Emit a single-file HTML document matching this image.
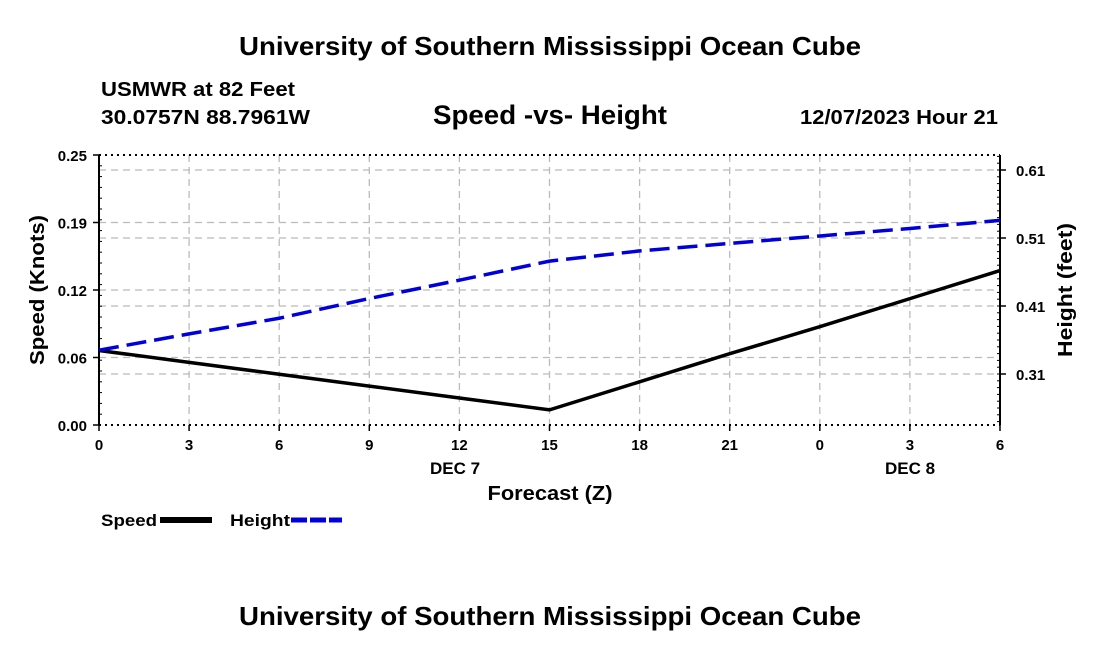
<!DOCTYPE html>
<html><head><meta charset="utf-8"><style>
body{margin:0;background:#fff;width:1100px;height:650px;overflow:hidden}
svg text{font-family:"Liberation Sans",sans-serif;font-weight:bold;fill:#000}
</style></head><body>
<svg id="c" width="1100" height="650">
<text x="550" y="55" font-size="26" text-anchor="middle" textLength="622" lengthAdjust="spacingAndGlyphs">University of Southern Mississippi Ocean Cube</text>
<text x="101" y="96" font-size="20" textLength="194" lengthAdjust="spacingAndGlyphs">USMWR at 82 Feet</text>
<text x="101" y="124" font-size="20" textLength="209" lengthAdjust="spacingAndGlyphs">30.0757N  88.7961W</text>
<text x="550" y="124" font-size="27" text-anchor="middle" textLength="234" lengthAdjust="spacingAndGlyphs">Speed -vs- Height</text>
<text x="998" y="124" font-size="20" text-anchor="end" textLength="198" lengthAdjust="spacingAndGlyphs">12/07/2023 Hour 21</text>
<g id="grid"></g><g id="axes"></g><g id="series"></g>
<text x="550" y="500" font-size="20" text-anchor="middle" textLength="125" lengthAdjust="spacingAndGlyphs">Forecast (Z)</text>
<text transform="translate(44,290) rotate(-90)" font-size="20" text-anchor="middle" textLength="150" lengthAdjust="spacingAndGlyphs">Speed (Knots)</text>
<text transform="translate(1072,290) rotate(-90)" font-size="20" text-anchor="middle" textLength="134" lengthAdjust="spacingAndGlyphs">Height (feet)</text>
<text x="455" y="474" font-size="17" text-anchor="middle">DEC 7</text>
<text x="910" y="474" font-size="17" text-anchor="middle">DEC 8</text>
<g><text x="101" y="526" font-size="17" textLength="56" lengthAdjust="spacingAndGlyphs">Speed</text><line x1="160" y1="520" x2="212" y2="520" stroke="#000" stroke-width="6"/></g>
<g><text x="230" y="526" font-size="17" textLength="60" lengthAdjust="spacingAndGlyphs">Height</text><line x1="291" y1="520" x2="342" y2="520" stroke="#0000dd" stroke-width="5" stroke-dasharray="16,3"/></g>
<text x="550" y="625" font-size="26" text-anchor="middle" textLength="622" lengthAdjust="spacingAndGlyphs">University of Southern Mississippi Ocean Cube</text>
</svg>
<script>
const hours=[0,3,6,9,12,15,18,21,24,27,30,33];
const xTickLabels=["0","3","6","9","12","15","18","21","0","3","6"];
const xTickHours=[0,3,6,9,12,15,18,21,24,27,30];
const speedValues=[0.069,0.058,0.047,0.036,0.025,0.014,0.040,0.066,0.091,0.117,0.143];
const heightValues=[0.345,0.369,0.392,0.421,0.448,0.476,0.491,0.502,0.513,0.524,0.536];
const yTicks=[0,0.0625,0.125,0.1875,0.25];
const yTickLabels=["0.00","0.06","0.12","0.19","0.25"];
const y2Ticks=[0.31,0.41,0.51,0.61];
const y2TickLabels=["0.31","0.41","0.51","0.61"];
const L=99,R=1000,T=155,B=425;
const X=h=>L+(h/30)*(R-L);
const Y=v=>B-(v/0.25)*(B-T);
const Y2=v=>374-(v-0.31)*680;
const NS="http://www.w3.org/2000/svg";
function mk(p,tag,a){const e=document.createElementNS(NS,tag);for(const k in a)e.setAttribute(k,a[k]);p.appendChild(e);return e;}
const g=document.getElementById('grid'),ax=document.getElementById('axes'),s=document.getElementById('series');
xTickHours.forEach((h,i)=>{
 const l=mk(g,'line',{x1:X(h),x2:X(h),y1:T,y2:B,stroke:'#bbb','stroke-width':1.3,'stroke-dasharray':'7,5'});
 
 
 mk(ax,'line',{x1:X(h),x2:X(h),y1:B,y2:B+6,stroke:'#000','stroke-width':1.5});
 const t=mk(ax,'text',{x:X(h),y:B+25,'font-size':15,'text-anchor':'middle'});t.textContent=xTickLabels[i];
 
 
});
yTicks.forEach((v,i)=>{
 if(i>0&&i<yTicks.length-1){const l=mk(g,'line',{x1:L,x2:R,y1:Y(v),y2:Y(v),stroke:'#bbb','stroke-width':1.3,'stroke-dasharray':'7,5'});
 
 }
 mk(ax,'line',{x1:L-6,x2:L,y1:Y(v),y2:Y(v),stroke:'#000','stroke-width':1.5});
 const t=mk(ax,'text',{x:L-12,y:Y(v)+6,'font-size':15,'text-anchor':'end'});t.textContent=yTickLabels[i];
 
 
});
for(let k=1;k<25;k++){const v=k*0.25/25;mk(ax,'line',{x1:L,x2:L+3,y1:Y(v),y2:Y(v),stroke:'#000'});}
y2Ticks.forEach((v,i)=>{
 const l=mk(g,'line',{x1:L,x2:R,y1:Y2(v),y2:Y2(v),stroke:'#bbb','stroke-width':1.3,'stroke-dasharray':'7,5'});
 
 
 mk(ax,'line',{x1:R,x2:R+6,y1:Y2(v),y2:Y2(v),stroke:'#000','stroke-width':1.5});
 const t=mk(ax,'text',{x:R+16,y:Y2(v)+6,'font-size':15});t.textContent=y2TickLabels[i];
 
 
});
for(let k=0;k<=40;k++){const v=0.24+k*0.01;const y=Y2(v);if(y>T&&y<B)mk(ax,'line',{x1:R-3,x2:R,y1:y,y2:y,stroke:'#000'});}
mk(ax,'line',{x1:L,x2:L,y1:T,y2:B,stroke:'#000','stroke-width':2});
mk(ax,'line',{x1:R,x2:R,y1:T,y2:B,stroke:'#000','stroke-width':2});
mk(ax,'line',{x1:L,x2:R,y1:T,y2:T,stroke:'#000','stroke-width':2,'stroke-dasharray':'2,4'});
mk(ax,'line',{x1:L,x2:R,y1:B,y2:B,stroke:'#000','stroke-width':2,'stroke-dasharray':'2,4'});
const sp=mk(s,'polyline',{points:speedValues.map((v,i)=>X(hours[i])+','+Y(v)).join(' '),fill:'none',stroke:'#000','stroke-width':3.5});


const hp=mk(s,'polyline',{points:heightValues.map((v,i)=>X(hours[i])+','+Y2(v)).join(' '),fill:'none',stroke:'#0000dd','stroke-width':3.5,'stroke-dasharray':'20,8'});


</script>
</body></html>
